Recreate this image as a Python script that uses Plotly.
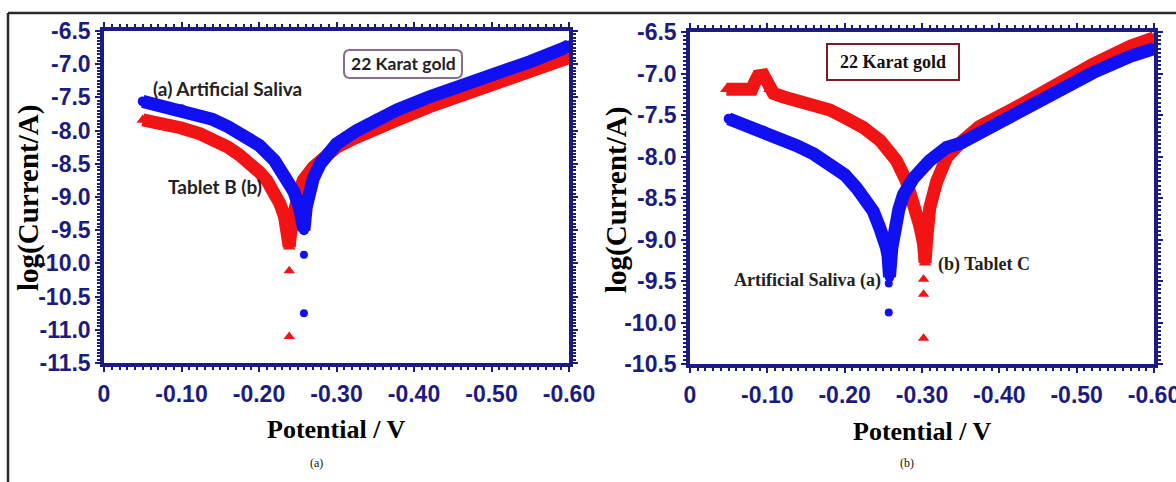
import plotly.graph_objects as go

# ---------------- data ----------------
# Panel (a): 22 Karat gold, Artificial Saliva vs Tablet B
a_saliva_v = [-0.05, -0.07, -0.10, -0.12, -0.14, -0.16, -0.18, -0.20, -0.22, -0.235, -0.245, -0.252,
              -0.256, -0.258, -0.261, -0.264, -0.27, -0.279, -0.29, -0.30, -0.326, -0.352, -0.378,
              -0.42, -0.464, -0.507, -0.55, -0.593, -0.60]
a_saliva_i = [-7.56, -7.61, -7.68, -7.76, -7.83, -7.94, -8.06, -8.22, -8.45, -8.70, -8.92, -9.15,
              -9.36, -9.50, -9.15, -8.95, -8.72, -8.50, -8.33, -8.20, -8.00, -7.82, -7.69,
              -7.49, -7.32, -7.14, -6.96, -6.76, -6.72]
a_saliva_tail_v = [-0.258, -0.258]
a_saliva_tail_i = [-9.87, -10.75]

a_tablet_v = [-0.05, -0.07, -0.10, -0.124, -0.14, -0.16, -0.175, -0.184, -0.20, -0.21, -0.22, -0.227,
              -0.233, -0.236, -0.238, -0.239, -0.242, -0.246, -0.252, -0.257, -0.27, -0.29, -0.30,
              -0.326, -0.352, -0.378, -0.42, -0.464, -0.507, -0.55, -0.60]
a_tablet_i = [-7.84, -7.88, -7.96, -8.05, -8.12, -8.25, -8.37, -8.45, -8.62, -8.75, -8.92, -9.10,
              -9.30, -9.45, -9.60, -9.75, -9.40, -9.15, -8.92, -8.75, -8.55, -8.35, -8.25,
              -8.10, -7.95, -7.84, -7.64, -7.47, -7.29, -7.11, -6.90]
a_tablet_tail_v = [-0.239, -0.239]
a_tablet_tail_i = [-10.11, -11.10]

# Panel (b): 22 Karat gold, Artificial Saliva vs Tablet C
b_saliva_v = [-0.05, -0.07, -0.095, -0.12, -0.138, -0.16, -0.181, -0.20, -0.2155, -0.228, -0.237,
              -0.245, -0.250, -0.254, -0.256, -0.257, -0.258, -0.261, -0.265, -0.27, -0.276, -0.289,
              -0.31, -0.332, -0.35, -0.374, -0.423, -0.472, -0.521, -0.57, -0.60]
b_saliva_i = [-7.545, -7.61, -7.69, -7.79, -7.87, -7.97, -8.09, -8.22, -8.38, -8.52, -8.66,
              -8.85, -8.95, -9.10, -9.19, -9.30, -9.45, -9.10, -8.83, -8.64, -8.46, -8.26,
              -8.05, -7.89, -7.84, -7.72, -7.48, -7.23, -6.99, -6.79, -6.70]
b_saliva_tail_v = [-0.257, -0.257]
b_saliva_tail_i = [-9.53, -9.88]

b_tablet_v = [-0.047, -0.06, -0.073, -0.080, -0.084, -0.088, -0.095, -0.099, -0.103, -0.108, -0.12,
              -0.138, -0.16, -0.181, -0.20, -0.224, -0.246, -0.267, -0.280, -0.289, -0.297, -0.302,
              -0.304, -0.306, -0.310, -0.319, -0.332, -0.349, -0.374, -0.423, -0.472, -0.521,
              -0.57, -0.60]
b_tablet_i = [-7.19, -7.19, -7.19, -7.19, -7.10, -7.03, -7.02, -7.08, -7.19, -7.24, -7.28,
              -7.32, -7.38, -7.44, -7.53, -7.65, -7.81, -8.05, -8.30, -8.54, -8.83, -9.05,
              -9.28, -9.00, -8.62, -8.30, -8.01, -7.84, -7.64, -7.40, -7.13, -6.89,
              -6.67, -6.57]
b_tablet_tail_v = [-0.302, -0.302, -0.302]
b_tablet_tail_i = [-9.48, -9.66, -10.19]

x_tickvals = [0, -0.1, -0.2, -0.3, -0.4, -0.5, -0.6]
x_ticktext = ["0", "-0.10", "-0.20", "-0.30", "-0.40", "-0.50", "-0.60"]
ya_tickvals = [-6.5, -7.0, -7.5, -8.0, -8.5, -9.0, -9.5, -10.0, -10.5, -11.0, -11.5]
ya_ticktext = ["-6.5", "-7.0", "-7.5", "-8.0", "-8.5", "-9.0", "-9.5", "-10.0", "-10.5", "-11.0", "-11.5"]
yb_tickvals = [-6.5, -7.0, -7.5, -8.0, -8.5, -9.0, -9.5, -10.0, -10.5]
yb_ticktext = ["-6.5", "-7.0", "-7.5", "-8.0", "-8.5", "-9.0", "-9.5", "-10.0", "-10.5"]

# ---------------- styling ----------------
W, H = 1176, 482
BLUE = "#1010f2"
RED = "#f21414"
NAVY = "#1c1c80"
TICKFONT = "Liberation Sans Narrow, Arial Narrow, Liberation Sans, Arial, sans-serif"
SERIF = "Liberation Serif, Times New Roman, serif"
SANS = "Lato, Carlito, Open Sans, sans-serif"


def px(x):
    return x / W


def py(y):
    return (H - y) / H


fig = go.Figure()


def band(xs, ys, color, symbol, xa, ya, msize):
    fig.add_trace(go.Scatter(
        x=xs, y=ys, mode="lines+markers", xaxis=xa, yaxis=ya,
        line=dict(color=color, width=13),
        marker=dict(color=color, symbol=symbol, size=msize),
        showlegend=False, hoverinfo="skip"))


def dots(xs, ys, color, symbol, xa, ya, msize):
    fig.add_trace(go.Scatter(
        x=xs, y=ys, mode="markers", xaxis=xa, yaxis=ya,
        marker=dict(color=color, symbol=symbol, size=msize),
        showlegend=False, hoverinfo="skip"))


# panel (a)
band(a_tablet_v, a_tablet_i, RED, "triangle-up", "x", "y", 11)
dots(a_tablet_tail_v, a_tablet_tail_i, RED, "triangle-up", "x", "y", 10)
band(a_saliva_v, a_saliva_i, BLUE, "circle", "x", "y", 10)
dots(a_saliva_tail_v, a_saliva_tail_i, BLUE, "circle", "x", "y", 8)
# panel (b)
band(b_tablet_v, b_tablet_i, RED, "triangle-up", "x2", "y2", 11)
dots(b_tablet_tail_v, b_tablet_tail_i, RED, "triangle-up", "x2", "y2", 10)
band(b_saliva_v, b_saliva_i, BLUE, "circle", "x2", "y2", 10)
dots(b_saliva_tail_v, b_saliva_tail_i, BLUE, "circle", "x2", "y2", 8)

common = dict(
    showline=True, linecolor=NAVY, linewidth=3.5, mirror="allticks",
    ticks="outside", ticklen=5, tickwidth=2, tickcolor=NAVY,
    showgrid=False, zeroline=False, automargin=False,
    tickfont=dict(family=TICKFONT, size=23, color=NAVY, weight="bold"),
)
xcommon = dict(common, range=[0, -0.6], tickmode="array", tickvals=x_tickvals,
               ticktext=x_ticktext, ticklabelstandoff=3, ticklabeloverflow="allow",
               minor=dict(ticks="outside", ticklen=3, tickwidth=1.5, tickcolor=NAVY,
                          tickmode="linear", tick0=0, dtick=0.01, showgrid=False))
ycommon = dict(common, tickmode="array",
               minor=dict(ticks="outside", ticklen=3, tickwidth=1.5, tickcolor=NAVY,
                          tickmode="linear", tick0=-6.5, dtick=0.05, showgrid=False))

fig.update_layout(
    width=W, height=H, autosize=False,
    margin=dict(l=0, r=0, t=0, b=0, pad=0, autoexpand=False),
    paper_bgcolor="white", plot_bgcolor="white",
    xaxis=dict(xcommon, domain=[px(104), px(569)], anchor="y"),
    yaxis=dict(ycommon, domain=[py(363), py(31)], anchor="x", range=[-11.5, -6.5],
               tickvals=ya_tickvals, ticktext=ya_ticktext),
    xaxis2=dict(xcommon, domain=[px(690), px(1154)], anchor="y2"),
    yaxis2=dict(ycommon, domain=[py(364), py(32)], anchor="x2", range=[-10.5, -6.5],
                tickvals=yb_tickvals, ticktext=yb_ticktext),
)

ann = []


def text(x, y, s, size, family, color="#1a1a1a", bold=True, angle=0, xanchor="center"):
    ann.append(dict(x=px(x), y=py(y), xref="paper", yref="paper", text=s, showarrow=False,
                    textangle=angle, xanchor=xanchor, yanchor="middle",
                    font=dict(family=family, size=size, color=color,
                              weight="bold" if bold else "normal")))


# axis titles
text(28, 198, "log(Current/A)", 29, SERIF, "#000000", angle=-90)
text(617, 200, "log(Current/A)", 29, SERIF, "#000000", angle=-90)
text(336, 429, "Potential / V", 26, SERIF, "#000000")
text(922, 431, "Potential / V", 26, SERIF, "#000000")
text(316, 463, "(a)", 12, SERIF, "#111111", bold=False)
text(907, 463, "(b)", 12, SERIF, "#111111", bold=False)

# in-plot labels
text(151, 88, "(a) Artificial Saliva", 19, SANS, "#222222", xanchor="left")
text(166, 187, "Tablet B (b)", 19, SANS, "#222222", xanchor="left")
text(403, 64, "22 Karat gold", 17.5, SANS, "#222222")
text(732, 281, "Artificial Saliva (a)", 18, SERIF, "#222222", xanchor="left")
text(936, 264, "(b) Tablet C", 18, SERIF, "#222222", xanchor="left")
text(893, 62, "22 Karat gold", 18, SERIF, "#111111")
fig.update_layout(annotations=ann)

# boxes and outer frame
x0, x1, y0, y1, r = 344, 462, 50, 78, 6
rx, ry = r / W, r / H
p = (f"M {px(x0)+rx},{py(y0)} L {px(x1)-rx},{py(y0)} Q {px(x1)},{py(y0)} {px(x1)},{py(y0)-ry} "
     f"L {px(x1)},{py(y1)+ry} Q {px(x1)},{py(y1)} {px(x1)-rx},{py(y1)} "
     f"L {px(x0)+rx},{py(y1)} Q {px(x0)},{py(y1)} {px(x0)},{py(y1)+ry} "
     f"L {px(x0)},{py(y0)-ry} Q {px(x0)},{py(y0)} {px(x0)+rx},{py(y0)} Z")
shapes = [
    dict(type="path", path=p, xref="paper", yref="paper",
         line=dict(color="#8a6d8e", width=2), fillcolor="rgba(0,0,0,0)"),
    dict(type="rect", xref="paper", yref="paper", x0=px(827), x1=px(959), y0=py(80), y1=py(44),
         line=dict(color="#7a1c2a", width=2), fillcolor="rgba(0,0,0,0)"),
    dict(type="line", xref="paper", yref="paper", x0=px(8), x1=px(1176), y0=py(13), y1=py(13),
         line=dict(color="#2a2a2a", width=2.5)),
    dict(type="line", xref="paper", yref="paper", x0=px(8), x1=px(8), y0=py(13), y1=py(482),
         line=dict(color="#2a2a2a", width=2.5)),
]
fig.update_layout(shapes=shapes)

fig.write_html(
    "out.html",
    config={"displayModeBar": False, "responsive": False},
    post_script="document.documentElement.style.margin='0';document.body.style.margin='0';"
                "document.body.style.padding='0';document.body.style.overflow='hidden';"
                "document.documentElement.style.overflow='hidden';",
)
